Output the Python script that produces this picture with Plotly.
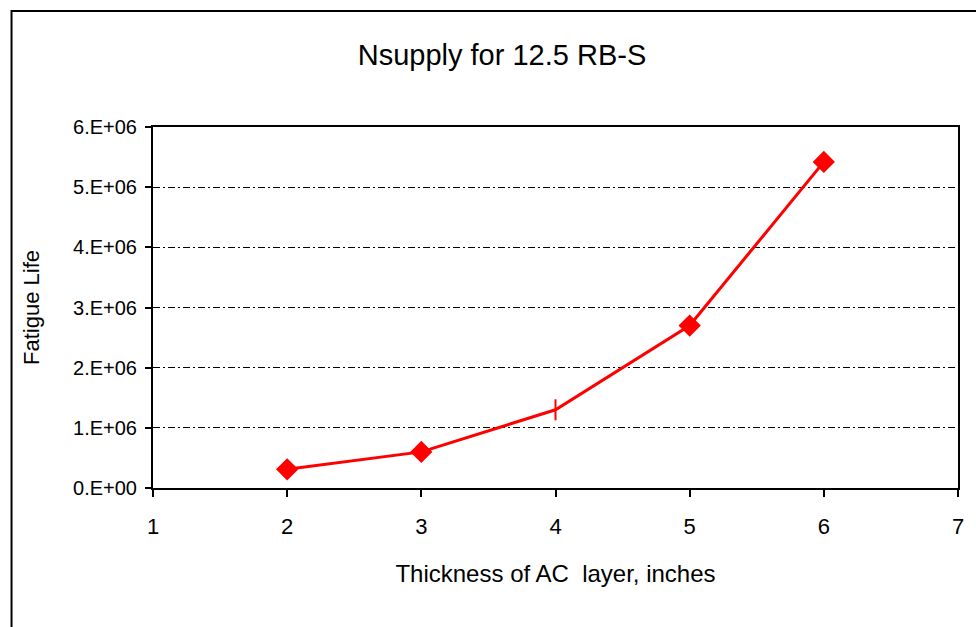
import plotly.graph_objects as go

thickness = [2, 3, 4, 5, 6]
fatigue_life = [0.31e6, 0.6e6, 1.3e6, 2.7e6, 5.42e6]
marker_symbols = ["diamond", "diamond", "line-ns", "diamond", "diamond"]
y_tick_vals = [0, 1e6, 2e6, 3e6, 4e6, 5e6, 6e6]
y_tick_text = ["0.E+00", "1.E+06", "2.E+06", "3.E+06", "4.E+06", "5.E+06", "6.E+06"]
x_tick_vals = [1, 2, 3, 4, 5, 6, 7]

W, H = 976, 627
L, R, T, B = 153, 15, 127, 139
pw, ph = W - L - R, H - T - B

fig = go.Figure()
fig.add_trace(go.Scatter(
    x=thickness, y=fatigue_life, mode="lines+markers",
    line=dict(color="#FF0000", width=3),
    marker=dict(symbol=marker_symbols, size=15, color="#FF0000",
                line=dict(color="#FF0000", width=2)),
    showlegend=False,
))

font = "Liberation Sans, Arial, sans-serif"
fig.update_layout(
    width=W, height=H,
    margin=dict(l=L, r=R, t=T, b=B),
    paper_bgcolor="white", plot_bgcolor="white",
    font=dict(family=font, color="black"),
    title=dict(text="Nsupply for 12.5 RB-S", x=502 / W, xref="container", xanchor="center",
               y=1 - 55 / H, yref="container", yanchor="middle",
               font=dict(size=29, family=font, color="black")),
    xaxis=dict(range=[1, 7], tickvals=x_tick_vals, ticks="outside", ticklen=7, tickwidth=2,
               tickcolor="black", showline=True, linecolor="black", linewidth=2, mirror=True,
               showgrid=False, zeroline=False, tickfont=dict(size=22),
               ticklabelstandoff=11,
               title=dict(text="Thickness of AC  layer, inches", font=dict(size=24), standoff=27)),
    yaxis=dict(range=[0, 6e6], tickvals=y_tick_vals, ticktext=y_tick_text, ticks="outside",
               ticklen=6, tickwidth=2, tickcolor="black", showline=True, linecolor="black",
               linewidth=2, mirror=True, showgrid=True, gridcolor="black", gridwidth=1,
               griddash="7px,3px,2px,3px", zeroline=False, tickfont=dict(size=20),
               ticklabelstandoff=4,
               title=dict(text="Fatigue Life", font=dict(size=22), standoff=27)),
    shapes=[dict(type="rect", xref="paper", yref="paper",
                 x0=(11 - L) / pw, x1=1.2, y0=-0.6, y1=(H - B - 11) / ph,
                 line=dict(color="black", width=2), fillcolor="rgba(0,0,0,0)", layer="below")],
)

fig.write_html("out.html")
